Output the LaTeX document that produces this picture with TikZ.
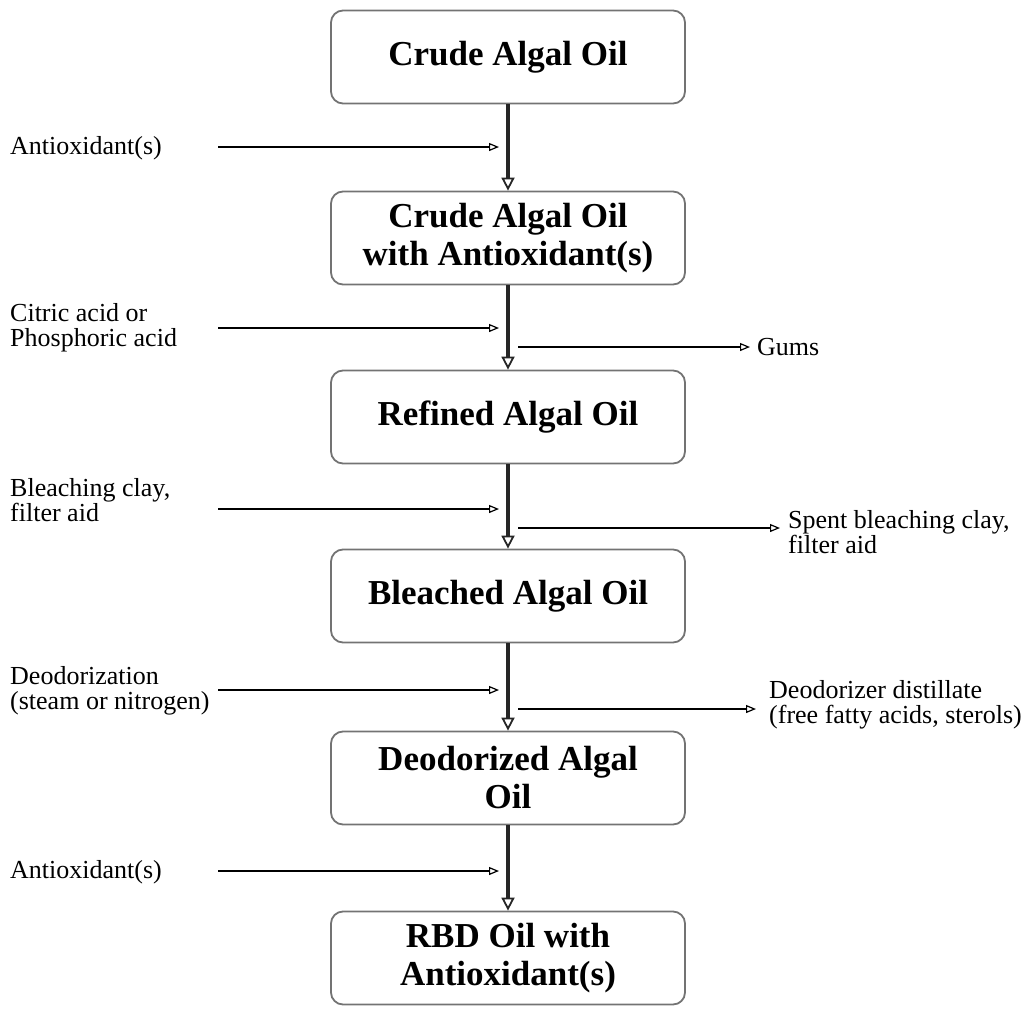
\documentclass[tikz,border=0pt]{standalone}
\usepackage{fontspec}
\setmainfont{Liberation Serif}
\usetikzlibrary{arrows.meta}
\begin{document}
\begin{tikzpicture}[x=1pt,y=-1pt,
  box/.style={draw=black!55, line width=1.8pt, rounded corners=12pt,
    minimum width=354pt, minimum height=93pt, align=center, inner sep=0pt,
    font=\fontsize{35}{38}\selectfont\bfseries},
  lbl/.style={font=\fontsize{26}{25}\selectfont, align=left, inner sep=0pt, anchor=west},
  mainflow/.style={draw=black!85, line width=3.5pt,
    -{Triangle[open,length=13pt,width=13pt,line width=1.8pt]}},
  sideflow/.style={draw=black, line width=1.4pt,
    -{Triangle[open,length=10pt,width=8pt,line width=1.2pt]}}]
\useasboundingbox (0,0) rectangle (1031,1009);

% boxes
\node[box] (b1) at (508,57)  {Crude Algal Oil};
\node[box] (b2) at (508,238) {Crude Algal Oil\\with Antioxidant(s)};
\node[box] (b3) at (508,417) {Refined Algal Oil};
\node[box] (b4) at (508,596) {Bleached Algal Oil};
\node[box] (b5) at (508,778) {Deodorized Algal\\Oil};
\node[box] (b6) at (508,958) {RBD Oil with\\Antioxidant(s)};

% main flow
\draw[mainflow] (b1.south) -- (b2.north);
\draw[mainflow] (b2.south) -- (b3.north);
\draw[mainflow] (b3.south) -- (b4.north);
\draw[mainflow] (b4.south) -- (b5.north);
\draw[mainflow] (b5.south) -- (b6.north);

% left inputs
\node[lbl] (in1) at (10,148) {Antioxidant(s)};
\node[lbl] (in2) at (10,328) {Citric acid or\\Phosphoric acid};
\node[lbl] (in3) at (10,500) {Bleaching clay,\\filter aid};
\node[lbl] (in4) at (10,691) {Deodorization\\(steam or nitrogen)};
\node[lbl] (in5) at (10,872) {Antioxidant(s)};

\coordinate (s1) at (218,147);  \coordinate (e1) at (499,147);
\coordinate (s2) at (218,328);  \coordinate (e2) at (499,328);
\coordinate (s3) at (218,509);  \coordinate (e3) at (499,509);
\coordinate (s4) at (218,690);  \coordinate (e4) at (499,690);
\coordinate (s5) at (218,871);  \coordinate (e5) at (499,871);
\draw[sideflow] (s1) -- (e1);
\draw[sideflow] (s2) -- (e2);
\draw[sideflow] (s3) -- (e3);
\draw[sideflow] (s4) -- (e4);
\draw[sideflow] (s5) -- (e5);

% right outputs
\node[lbl] (out1) at (757,347) {Gums};
\node[lbl] (out2) at (788,532) {Spent bleaching clay,\\filter aid};
\node[lbl] (out3) at (769,705) {Deodorizer distillate\\(free fatty acids, sterols)};

\coordinate (r1) at (518,347);  \coordinate (t1) at (750,347);
\coordinate (r2) at (518,528);  \coordinate (t2) at (780,528);
\coordinate (r3) at (518,709);  \coordinate (t3) at (756,709);
\draw[sideflow] (r1) -- (t1);
\draw[sideflow] (r2) -- (t2);
\draw[sideflow] (r3) -- (t3);
\end{tikzpicture}
\end{document}
